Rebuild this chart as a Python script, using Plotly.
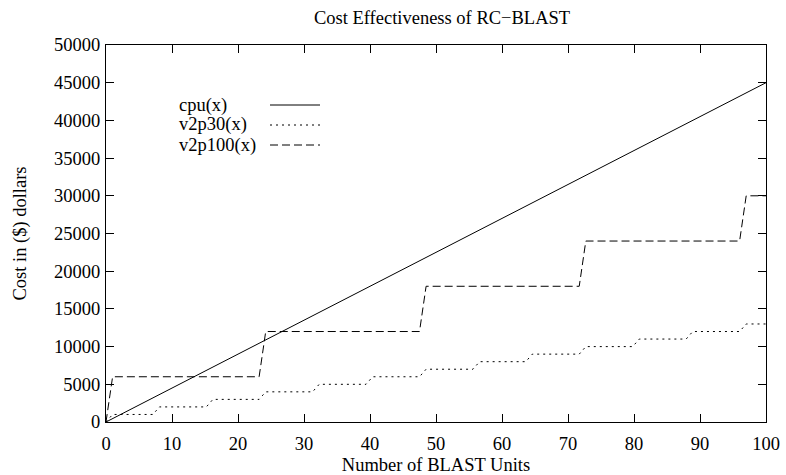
import plotly.graph_objects as go

# Data
cpu_x = [0, 100]
cpu_y = [0, 45000]

v2p30_x = [0, 1.0, 7.1, 8.1, 15.2, 16.2, 23.2, 24.2, 31.3, 32.3, 39.4, 40.4, 47.5, 48.5,
           55.6, 56.6, 63.6, 64.6, 71.7, 72.7, 79.8, 80.8, 87.9, 88.9, 96.0, 97.0, 100]
v2p30_y = [0, 1000, 1000, 2000, 2000, 3000, 3000, 4000, 4000, 5000, 5000, 6000, 6000, 7000,
           7000, 8000, 8000, 9000, 9000, 10000, 10000, 11000, 11000, 12000, 12000, 13000, 13000]

v2p100_x = [0, 1.0, 23.2, 24.2, 47.5, 48.5, 71.7, 72.7, 96.0, 97.0, 100]
v2p100_y = [0, 6000, 6000, 12000, 12000, 18000, 18000, 24000, 24000, 30000, 30000]

series_names = ["cpu(x)", "v2p30(x)", "v2p100(x)"]
dashes = ["solid", "2px,4px", "8px,4px"]

FONT = "Liberation Serif"
FS = 18.5

fig = go.Figure()
for name, xs, ys, d in zip(series_names, [cpu_x, v2p30_x, v2p100_x],
                           [cpu_y, v2p30_y, v2p100_y], dashes):
    fig.add_trace(go.Scatter(x=xs, y=ys, mode="lines", name=name,
                             line=dict(color="black", width=1, dash=d),
                             showlegend=False))

L, R, T, B = 106, 20, 45, 53
W, H = 786, 475
pw, ph = W - L - R, H - T - B

def px(xp):
    return (xp - L) / pw

def py(yp):
    return (H - B - yp) / ph

# manual gnuplot-style key: text on the left, line sample on the right
key_rows = [105, 125, 145]
shapes = []
annotations = []
for name, d, yr in zip(series_names, dashes, key_rows):
    annotations.append(dict(x=px(177), y=py(yr), xref="paper", yref="paper",
                            text=name, showarrow=False, xanchor="left", yanchor="middle",
                            font=dict(family=FONT, size=FS, color="black")))
    shapes.append(dict(type="line", xref="paper", yref="paper",
                       x0=px(270), x1=px(320), y0=py(yr), y1=py(yr),
                       line=dict(color="black", width=1, dash=d)))

fig.update_layout(
    width=W, height=H,
    margin=dict(l=L, r=R, t=T, b=B),
    paper_bgcolor="white", plot_bgcolor="white",
    font=dict(family=FONT, size=FS, color="black"),
    title=dict(text="Cost Effectiveness of RC\u2212BLAST", x=442 / W, xanchor="center",
               xref="container", y=1 - 18 / H, yanchor="middle",
               font=dict(family=FONT, size=FS)),
    shapes=shapes, annotations=annotations,
    xaxis=dict(range=[0, 100], dtick=10, tick0=0, ticks="inside", ticklen=8,
               tickcolor="black", showline=True, linecolor="black", linewidth=1,
               mirror="ticks", showgrid=False, zeroline=False, automargin=False,
               tickfont=dict(family=FONT, size=FS), ticklabelstandoff=5,
               title=dict(text="Number of BLAST Units", standoff=6,
                          font=dict(family=FONT, size=FS))),
    yaxis=dict(range=[0, 50000], dtick=5000, tick0=0, ticks="inside", ticklen=8,
               tickcolor="black", showline=True, linecolor="black", linewidth=1,
               mirror="ticks", showgrid=False, zeroline=False, automargin=False,
               tickformat="d", tickfont=dict(family=FONT, size=FS), ticklabelstandoff=1,
               title=dict(text="Cost in ($) dollars", standoff=22,
                          font=dict(family=FONT, size=FS))),
)

fig.write_html("out.html")
